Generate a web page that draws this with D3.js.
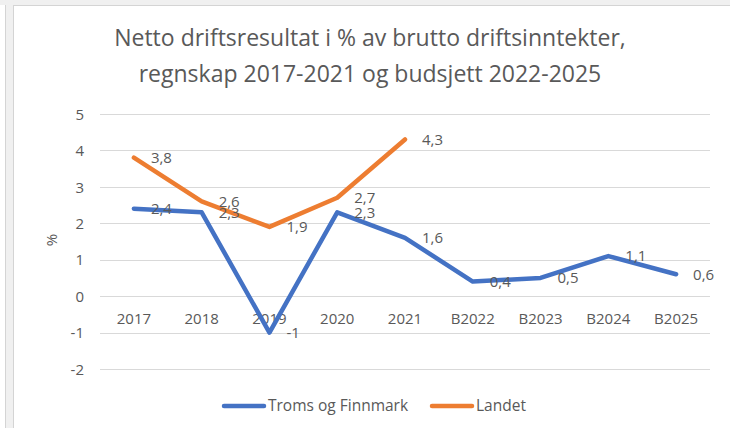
<!DOCTYPE html>
<html>
<head>
<meta charset="utf-8">
<script src="https://cdn.jsdelivr.net/npm/d3@7"></script>
<style>
  body { margin: 0; background: #fff; }
  text { font-family: "Open Sans", Lato, sans-serif; fill: #595959; }
</style>
</head>
<body>
<div id="chart"></div>
<script>
var categories = ["2017", "2018", "2019", "2020", "2021", "B2022", "B2023", "B2024", "B2025"];
var tromsFinnmark = [2.4, 2.3, -1, 2.3, 1.6, 0.4, 0.5, 1.1, 0.6];
var landet = [3.8, 2.6, 1.9, 2.7, 4.3];
var yTicks = [-2, -1, 0, 1, 2, 3, 4, 5];
var titleLines = ["Netto driftsresultat i % av brutto driftsinntekter,", "regnskap 2017-2021 og budsjett 2022-2025"];

var series = [
  { name: "Troms og Finnmark", values: tromsFinnmark, color: "#4472C4" },
  { name: "Landet", values: landet, color: "#ED7D31" }
];

var width = 730, height = 428;

var svg = d3.select("#chart").append("svg")
    .attr("width", width)
    .attr("height", height);

// window frame bits (grey band top and left)
svg.append("rect").attr("x", 0).attr("y", 0).attr("width", width).attr("height", 5).attr("fill", "#f0f0f0");
svg.append("rect").attr("x", 5).attr("y", 0).attr("width", 9).attr("height", height).attr("fill", "#f0f0f0");
svg.append("line").attr("x1", 14).attr("x2", width).attr("y1", 5.5).attr("y2", 5.5).attr("stroke", "#d4d4d4");
svg.append("line").attr("x1", 5.5).attr("x2", 5.5).attr("y1", 5).attr("y2", height).attr("stroke", "#d4d4d4");
svg.append("line").attr("x1", 13.5).attr("x2", 13.5).attr("y1", 5).attr("y2", height).attr("stroke", "#d4d4d4");

var x = d3.scaleBand()
    .domain(categories)
    .range([100, 710]);

var y = d3.scaleLinear()
    .domain([-2, 5])
    .range([369, 114]);

function cx(i) { return x(categories[i]) + x.bandwidth() / 2; }
function fmt(d) { return String(d).replace(".", ","); }

// title
svg.append("g")
    .selectAll("text")
    .data(titleLines)
    .enter().append("text")
    .attr("x", 370)
    .attr("y", function(d, i) { return 46 + i * 36; })
    .attr("text-anchor", "middle")
    .style("font-size", "23px")
    .text(function(d) { return d; });

// gridlines
svg.append("g")
    .selectAll("line")
    .data(yTicks)
    .enter().append("line")
    .attr("x1", 100)
    .attr("x2", 710)
    .attr("y1", function(d) { return Math.round(y(d)) + 0.5; })
    .attr("y2", function(d) { return Math.round(y(d)) + 0.5; })
    .attr("stroke", "#d9d9d9")
    .attr("stroke-width", 1);

// y axis labels
var yAxis = d3.axisLeft(y).tickValues(yTicks).tickFormat(fmt).tickSize(0).tickPadding(0);
var gy = svg.append("g").attr("transform", "translate(84,0)").call(yAxis);
gy.select(".domain").remove();
gy.selectAll("text")
    .style("font-size", "15px")
    .style("font-family", null)
    .attr("fill", null)
    .attr("dy", "0.35em");

svg.append("text")
    .attr("transform", "translate(52,240) rotate(-90)")
    .attr("text-anchor", "middle")
    .attr("dy", "0.35em")
    .style("font-size", "15px")
    .text("%");

// x axis labels at zero line
var xAxis = d3.axisBottom(x).tickSize(0).tickPadding(0);
var gx = svg.append("g").attr("transform", "translate(0," + y(0) + ")").call(xAxis);
gx.select(".domain").remove();
gx.selectAll("text")
    .style("font-size", "15px")
    .style("font-family", null)
    .attr("fill", null)
    .attr("y", 23)
    .attr("dy", "0.35em");

// lines
var line = d3.line()
    .x(function(d, i) { return cx(i); })
    .y(function(d) { return y(d); });

svg.selectAll(".series")
    .data(series)
    .enter().append("path")
    .attr("class", "series")
    .attr("fill", "none")
    .attr("stroke", function(d) { return d.color; })
    .attr("stroke-width", 4.5)
    .attr("stroke-linejoin", "round")
    .attr("stroke-linecap", "round")
    .attr("d", function(d) { return line(d.values); });

// data labels
series.forEach(function(s) {
  svg.append("g")
    .selectAll("text")
    .data(s.values)
    .enter().append("text")
    .attr("x", function(d, i) { return cx(i) + 17; })
    .attr("y", function(d) { return y(d); })
    .attr("dy", "0.35em")
    .style("font-size", "15px")
    .text(fmt);
});

// legend
var legend = svg.append("g").attr("transform", "translate(0,406)");
var lx = [224, 432];
series.forEach(function(s, i) {
  legend.append("line")
    .attr("x1", lx[i]).attr("x2", lx[i] + 40)
    .attr("y1", 0).attr("y2", 0)
    .attr("stroke", s.color)
    .attr("stroke-width", 4.5)
    .attr("stroke-linecap", "round");
  legend.append("text")
    .attr("x", lx[i] + 44)
    .attr("y", 0)
    .attr("dy", "0.35em")
    .style("font-size", "15.5px")
    .text(s.name);
});
</script>
</body>
</html>
